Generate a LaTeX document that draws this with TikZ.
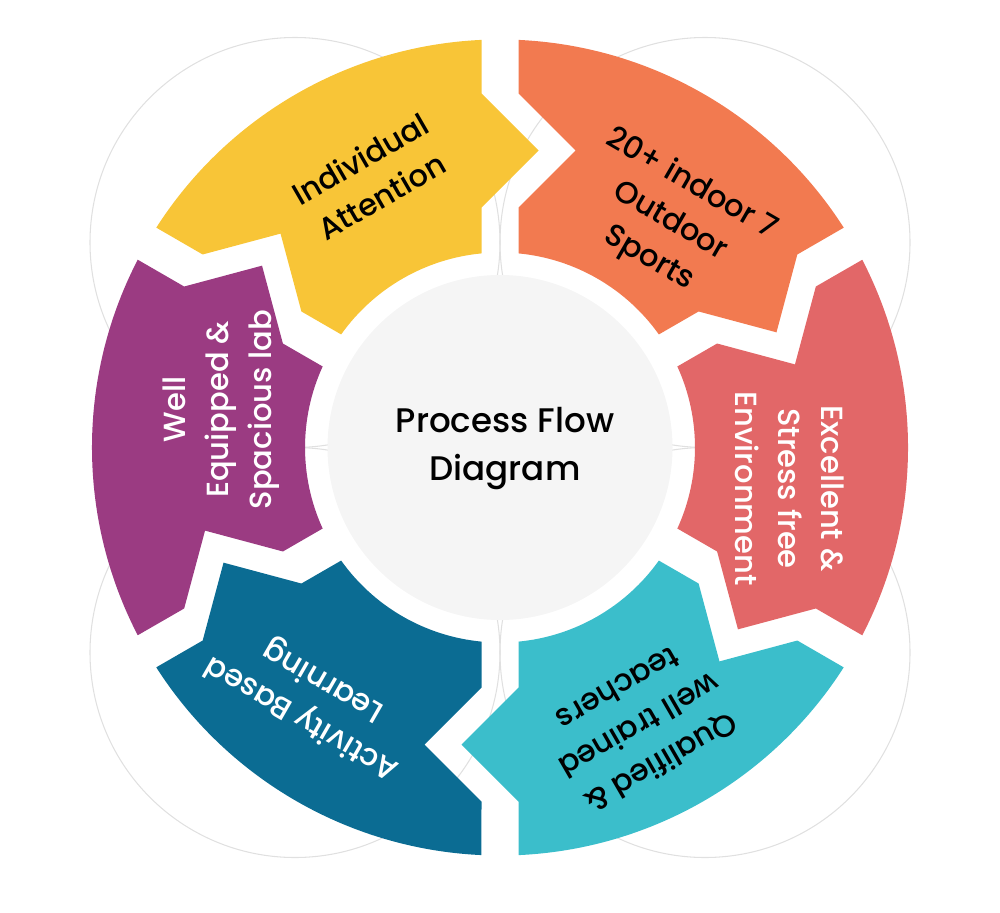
\documentclass[tikz,border=0pt]{standalone}
\usepackage{fontspec}
\setmainfont{Poppins}[UprightFont=* Medium]
\definecolor{petalyellow}{HTML}{F8C537}
\definecolor{petalorange}{HTML}{F27A50}
\definecolor{petalred}{HTML}{E26768}
\definecolor{petalcyan}{HTML}{3BBECB}
\definecolor{petalblue}{HTML}{0B6C93}
\definecolor{petalpurple}{HTML}{9B3B82}
\definecolor{hubgray}{HTML}{F5F5F5}

\begin{document}
\begin{tikzpicture}[
  petal/.pic={
    \path[pic actions] (1.941,0.185) -- (2.40,0.185) -- (2.97,-0.385) -- (3.54,0.185) -- (4.076,0.185)
      arc[start angle=2.6, end angle=57.4, radius=4.08]
      -- ([rotate=60]3.54,-0.185) -- ([rotate=60]2.97,-0.755) -- ([rotate=60]2.40,-0.185) -- ([rotate=60]1.941,-0.185)
      arc[start angle=54.556, end angle=5.444, radius=1.95] -- cycle;
  },
  guide/.style={draw=black!12, line width=0.3pt},
  petaltext/.style={align=center, inner sep=0pt, font=\fontsize{8.7}{12.2}\selectfont},
]
  \useasboundingbox (-5,-4.645) rectangle (5,4.475);

  % faint circles behind
  \draw[guide] (-2.05,2.05) circle (2.05);
  \draw[guide] (2.05,2.05) circle (2.05);
  \draw[guide] (-2.05,-2.05) circle (2.05);
  \draw[guide] (2.05,-2.05) circle (2.05);

  \pic[rotate=90, fill=petalyellow] (yellow) at (0,0) {petal};
  \pic[rotate=30, fill=petalorange] (orange) at (0,0) {petal};
  \pic[rotate=-30, fill=petalred] (red) at (0,0) {petal};
  \pic[rotate=-90, fill=petalcyan] (cyan) at (0,0) {petal};
  \pic[rotate=-150, fill=petalblue] (blue) at (0,0) {petal};
  \pic[rotate=150, fill=petalpurple] (purple) at (0,0) {petal};

  \node[circle, fill=hubgray, minimum size=3.45cm, inner sep=0pt] (hub) at (0,0) {};
  \node[align=center, inner sep=0pt, font=\fontsize{9.7}{13.4}\selectfont] (title) at (0.05,-0.01) {Process Flow\\Diagram};

  \node[petaltext, rotate=30] (attention) at (-1.29,2.70) {Individual\\Attention};
  \node[petaltext, rotate=-30] (sports) at (1.70,2.26) {20+ indoor 7\\Outdoor\\Sports};
  \node[petaltext, rotate=-90, text=white] (environment) at (2.90,-0.41) {Excellent \&\\Stress free\\Environment};
  \node[petaltext, rotate=210] (teachers) at (1.40,-2.79) {Qualified \&\\well trained\\teachers};
  \node[petaltext, rotate=150, text=white] (learning) at (-1.87,-2.51) {Activity Based\\Learning};
  \node[petaltext, rotate=90, text=white] (lab) at (-2.79,0.38) {Well\\Equipped \&\\Spacious lab};
\end{tikzpicture}
\end{document}
